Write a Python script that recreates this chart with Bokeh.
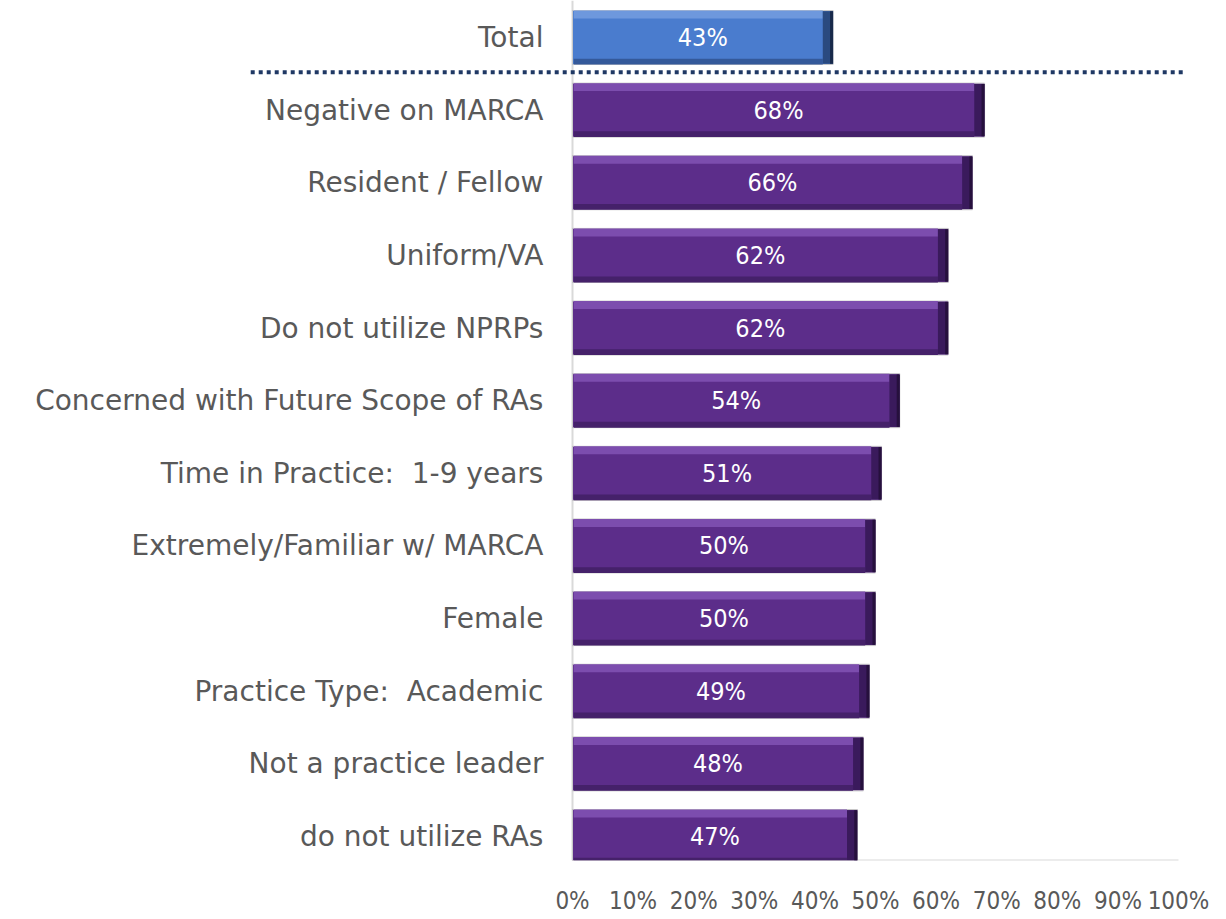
from bokeh.plotting import figure
from bokeh.models import Range1d, FixedTicker, NumeralTickFormatter, ColumnDataSource
from bokeh.core.properties import value
from bokeh.embed import file_html
from bokeh.resources import INLINE

categories = ["Total", "Negative on MARCA", "Resident / Fellow", "Uniform/VA",
              "Do not utilize NPRPs", "Concerned with Future Scope of RAs",
              "Time in Practice:\u00a0 1-9 years", "Extremely/Familiar w/ MARCA", "Female",
              "Practice Type:\u00a0 Academic", "Not a practice leader", "do not utilize RAs"]
values = [0.43, 0.68, 0.66, 0.62, 0.62, 0.54, 0.51, 0.50, 0.50, 0.49, 0.48, 0.47]
x_ticks = [0, 0.1, 0.2, 0.3, 0.4, 0.5, 0.6, 0.7, 0.8, 0.9, 1.0]

n = len(categories)
ypos = [n - 1 - i for i in range(n)]
is_total = [c == "Total" for c in categories]
main_c = ["#4A7CCE" if t else "#5C2D8A" for t in is_total]
top_c = ["#6E98DD" if t else "#7C4DAE" for t in is_total]
bot_c = ["#34599A" if t else "#45216A" for t in is_total]
right_c = ["#2A4A80" if t else "#3A1A5C" for t in is_total]
edge_c = ["#18294A" if t else "#26103D" for t in is_total]

H = 0.743
T = 0.11
B = 0.08
R = 0.017

src = ColumnDataSource(dict(
    y=ypos, v=values, cat=categories,
    main=main_c, top=top_c, bot=bot_c, rc=right_c, ec=edge_c,
    ytop=[y + H / 2 - T / 2 for y in ypos],
    ybot=[y - H / 2 + B / 2 for y in ypos],
    vr=[v - R for v in values],
    ve=[v - 0.005 for v in values],
    vhalf=[v / 2 for v in values],
    lab=["%d%%" % round(v * 100) for v in values],
))

p = figure(frame_width=1190, frame_height=860,
           x_range=Range1d(-0.9439, 1.0198), y_range=Range1d(-0.33, 11.509),
           output_backend="svg", toolbar_location=None,
           min_border_left=0, min_border_right=28, min_border_top=0, min_border_bottom=0)
p.outline_line_color = None
p.xgrid.visible = False
p.ygrid.visible = False
p.yaxis.visible = False
p.background_fill_color = "white"

xa = p.xaxis[0]
xa.ticker = FixedTicker(ticks=x_ticks)
xa.formatter = NumeralTickFormatter(format="0%")
xa.axis_line_color = None
xa.major_tick_line_color = None
xa.minor_tick_line_color = None
xa.major_label_standoff = 20
xa.major_label_text_font = "DejaVu Sans Condensed"
xa.major_label_text_font_size = "24px"
xa.major_label_text_color = "#595959"

# axis lines
p.segment(x0=[0], y0=[-0.33], x1=[1.0], y1=[-0.33], line_color="#D9D9D9", line_width=2)
p.segment(x0=[0], y0=[-0.33], x1=[0], y1=[11.509], line_color="#D9D9D9", line_width=2)

# bars with bevel
p.hbar(y="y", left=0, right="v", height=H, source=src, fill_color="main",
       line_color="#C8C8C8", line_width=1)
p.hbar(y="ytop", left=0.002, right="vr", height=T, source=src, fill_color="top", line_color=None)
p.hbar(y="ybot", left=0.002, right="vr", height=B, source=src, fill_color="bot", line_color=None)
p.hbar(y="y", left="vr", right="v", height=H * 0.97, source=src, fill_color="rc", line_color=None)
p.hbar(y="y", left="ve", right="v", height=H * 0.97, source=src, fill_color="ec", line_color=None)

# separator
p.segment(x0=[-0.531], y0=[10.52], x1=[1.008], y1=[10.52], line_color="#1F3864",
          line_width=4, line_dash="4 4")

# labels
p.text(x=-0.048, y="y", text="cat", source=src, text_align="right", text_baseline="middle",
       text_font=value("DejaVu Sans"), text_font_size="28px", text_color="#595959")
p.text(x="vhalf", y="y", text="lab", source=src, text_align="center", text_baseline="middle",
       text_font=value("DejaVu Sans Condensed"), text_font_size="25px", text_color="white")

open("out.html", "w").write(file_html(p, INLINE))
